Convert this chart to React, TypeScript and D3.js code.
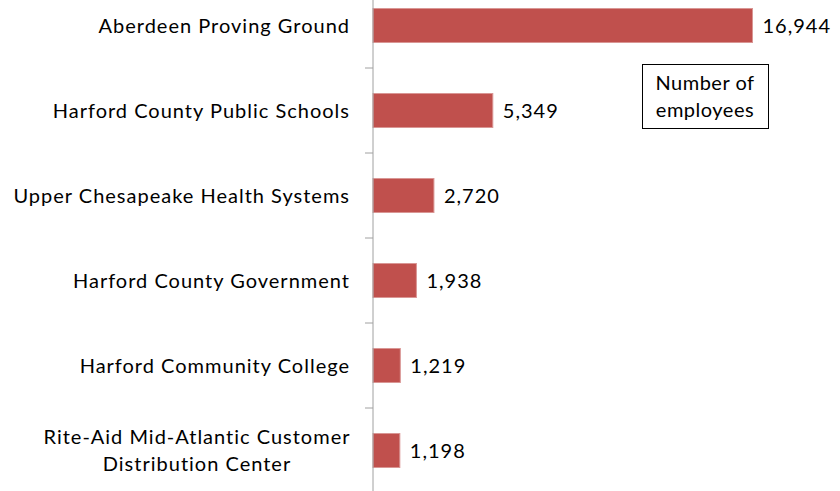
import React from 'react';
import * as d3 from 'd3';

const categories = [
  'Aberdeen Proving Ground',
  'Harford County Public Schools',
  'Upper Chesapeake Health Systems',
  'Harford County Government',
  'Harford Community College',
  'Rite-Aid Mid-Atlantic Customer|Distribution Center',
];
const employees = [16944, 5349, 2720, 1938, 1219, 1198];
const legendLines = ['Number of', 'employees'];

const W = 840;
const H = 491;
const FONT = 'Lato, "Open Sans", sans-serif';

export default function App() {
  const x = d3.scaleLinear().domain([0, 16944]).range([373, 752.5]);
  const y = d3.scaleBand<string>().domain(categories).range([-17, 493]).paddingInner(0.6).paddingOuter(0.3);
  const step = y.step();
  const fmt = d3.format(',');
  const x0 = x(0);

  return (
    <svg width={W} height={H} style={{ position: 'absolute', left: 0, top: 0, background: '#fff' }}>
      {categories.map((c, i) => {
        const top = y(c)!;
        const cy = top + y.bandwidth() / 2;
        const lines = c.split('|');
        return (
          <g key={c}>
            <rect x={x0} y={top} width={x(employees[i]) - x0} height={y.bandwidth()}
              fill="#C0504D" stroke="#D99694" strokeWidth={1} />
            <text x={x(employees[i]) + 10} y={cy} dy="0.35em" fontFamily={FONT} fontSize={20} letterSpacing={1} fill="#000">
              {fmt(employees[i])}
            </text>
            <text x={350} y={cy - (lines.length - 1) * 13.5} textAnchor="end" fontFamily={FONT} fontSize={20} letterSpacing={1} fill="#000">
              {lines.map((l, j) => (
                <tspan key={j} x={lines.length > 1 ? 197 : 350} textAnchor={lines.length > 1 ? 'middle' : 'end'} dy={j === 0 ? '0.35em' : 27}>{l}</tspan>
              ))}
            </text>
          </g>
        );
      })}
      {categories.slice(1).map((c) => {
        const ty = y(c)! - (step - y.bandwidth()) / 2;
        return <line key={c} x1={365} x2={x0} y1={ty} y2={ty} stroke="#A0A0A0" strokeWidth={1} />;
      })}
      <line x1={x0} x2={x0} y1={0} y2={H} stroke="#A0A0A0" strokeWidth={1} />
      <rect x={642.5} y={64.5} width={126} height={64} fill="#fff" stroke="#000" strokeWidth={1} />
      {legendLines.map((l, i) => (
        <text key={l} x={705} y={83 + i * 27} dy="0.35em" textAnchor="middle" fontFamily={FONT} fontSize={20} letterSpacing={0.5} fill="#000">{l}</text>
      ))}
    </svg>
  );
}
